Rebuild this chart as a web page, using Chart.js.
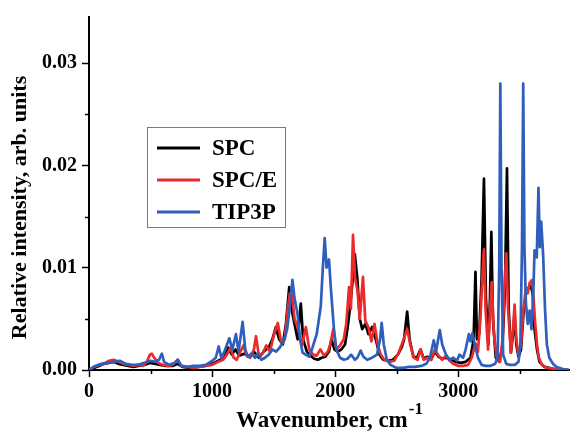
<!DOCTYPE html>
<html>
<head>
<meta charset="utf-8">
<script src="https://cdn.jsdelivr.net/npm/chart.js@4.4.1/dist/chart.umd.min.js"></script>
<style>
  html, body { margin: 0; padding: 0; background: #fff; }
  #wrap { width: 570px; height: 432px; position: relative; }
</style>
</head>
<body>
<div id="wrap"><canvas id="chart"></canvas></div>
<script>
// series labels and colours
const seriesNames = ['SPC', 'SPC/E', 'TIP3P'];
const seriesColors = ['#000000', '#ec2a2a', '#2f5fbd'];

// SPC (black) - wavenumber, cm-1 / relative intensity
const spcWn = [0, 40, 80, 120, 160, 200, 240, 280, 320, 360, 400, 450, 500, 540, 580, 620, 680, 720, 760, 820, 880, 940,
  1000, 1050, 1100, 1130, 1160, 1190, 1220, 1260, 1300, 1340, 1380, 1420, 1460, 1490, 1518, 1545, 1575, 1600, 1627, 1645,
  1670, 1695, 1721, 1740, 1770, 1800, 1830, 1860, 1890, 1920, 1950, 1970, 1995, 2020, 2050, 2080, 2100, 2120, 2140, 2160,
  2181, 2200, 2220, 2245, 2270, 2300, 2330, 2360, 2390, 2430, 2470, 2510, 2540, 2560, 2585, 2605, 2635, 2665, 2693, 2720,
  2750, 2780, 2810, 2840, 2870, 2900, 2940, 2980, 3020, 3060, 3100, 3125, 3140, 3152, 3170, 3190, 3209, 3225, 3245, 3258,
  3269, 3282, 3305, 3335, 3360, 3380, 3396, 3410, 3428, 3445, 3458, 3472, 3490, 3510, 3530, 3550, 3570, 3590, 3605, 3620,
  3640, 3660, 3700, 3780, 3900];
const spcInt = [0, 0.0002, 0.0004, 0.0006, 0.0007, 0.0008, 0.0006, 0.0005, 0.0004, 0.0003, 0.0004, 0.0005, 0.0007, 0.0006, 0.0005, 0.0004, 0.0004, 0.0006, 0.0003, 0.0002, 0.0003, 0.0004,
  0.0006, 0.0009, 0.0012, 0.0022, 0.0015, 0.0020, 0.0014, 0.0016, 0.0013, 0.0018, 0.0012, 0.0018, 0.0022, 0.0030, 0.0042, 0.0030, 0.0025, 0.0045, 0.0081, 0.0060,
  0.0045, 0.0030, 0.0065, 0.0030, 0.0018, 0.0014, 0.0011, 0.0010, 0.0012, 0.0013, 0.0018, 0.0030, 0.0020, 0.0018, 0.0020, 0.0025, 0.0040, 0.0060, 0.0085, 0.0113,
  0.0088, 0.0050, 0.0040, 0.0045, 0.0035, 0.0042, 0.0030, 0.0015, 0.0010, 0.0009, 0.0010, 0.0015, 0.0022, 0.0030, 0.0057, 0.0030, 0.0013, 0.0012, 0.0020, 0.0011,
  0.0013, 0.0010, 0.0018, 0.0013, 0.0011, 0.0012, 0.0010, 0.0008, 0.0007, 0.0008, 0.0012, 0.0030, 0.0096, 0.0030, 0.0035, 0.0090, 0.0187, 0.0070, 0.0025, 0.0070,
  0.0135, 0.0050, 0.0012, 0.0008, 0.0025, 0.0080, 0.0197, 0.0060, 0.0017, 0.0035, 0.0055, 0.0025, 0.0013, 0.0020, 0.0055, 0.0075, 0.0080, 0.0082, 0.0075, 0.0040,
  0.0020, 0.0008, 0.0003, 0.0001, 0];

// SPC/E (red)
const spceWn = [0, 40, 80, 120, 160, 200, 240, 280, 320, 360, 400, 440, 470, 495, 510, 530, 560, 600, 640, 680, 720, 750, 800, 850, 900, 950,
  1000, 1050, 1090, 1120, 1150, 1175, 1200, 1230, 1255, 1280, 1310, 1340, 1357, 1380, 1410, 1440, 1470, 1500, 1534, 1560, 1590, 1615,
  1632, 1650, 1670, 1700, 1730, 1762, 1790, 1820, 1850, 1880, 1910, 1940, 1960, 1985, 2010, 2040, 2070, 2090, 2113, 2128, 2145, 2162,
  2181, 2200, 2226, 2245, 2270, 2295, 2320, 2345, 2370, 2400, 2440, 2480, 2520, 2550, 2585, 2610, 2640, 2670, 2693, 2720, 2750, 2780,
  2810, 2840, 2870, 2900, 2930, 2960, 3000, 3040, 3080, 3110, 3140, 3160, 3180, 3200, 3209, 3222, 3242, 3260, 3272, 3290, 3315, 3340,
  3360, 3375, 3390, 3405, 3428, 3445, 3458, 3472, 3490, 3510, 3530, 3550, 3565, 3580, 3600, 3612, 3625, 3640, 3655, 3680, 3720, 3800, 3900];
const spceInt = [0, 0.0003, 0.0005, 0.0006, 0.0009, 0.0010, 0.0008, 0.0006, 0.0005, 0.0004, 0.0005, 0.0004, 0.0008, 0.0015, 0.0016, 0.0012, 0.0007, 0.0005, 0.0004, 0.0005, 0.0010, 0.0004, 0.0003, 0.0002, 0.0003, 0.0004,
  0.0005, 0.0008, 0.0010, 0.0015, 0.0022, 0.0012, 0.0010, 0.0018, 0.0024, 0.0014, 0.0012, 0.0020, 0.0033, 0.0014, 0.0016, 0.0024, 0.0018, 0.0033, 0.0046, 0.0028, 0.0030, 0.0060,
  0.0075, 0.0073, 0.0050, 0.0040, 0.0024, 0.0042, 0.0020, 0.0015, 0.0014, 0.0020, 0.0014, 0.0018, 0.0025, 0.0040, 0.0020, 0.0024, 0.0030, 0.0045, 0.0081, 0.0060, 0.0132, 0.0090,
  0.0078, 0.0050, 0.0091, 0.0048, 0.0042, 0.0028, 0.0045, 0.0025, 0.0015, 0.0010, 0.0008, 0.0009, 0.0018, 0.0028, 0.0040, 0.0025, 0.0012, 0.0010, 0.0020, 0.0010, 0.0012, 0.0010,
  0.0020, 0.0014, 0.0010, 0.0014, 0.0009, 0.0006, 0.0004, 0.0004, 0.0005, 0.0012, 0.0026, 0.0018, 0.0050, 0.0100, 0.0118, 0.0060, 0.0020, 0.0060, 0.0086, 0.0035, 0.0010, 0.0008,
  0.0030, 0.0080, 0.0114, 0.0060, 0.0017, 0.0040, 0.0064, 0.0030, 0.0015, 0.0025, 0.0060, 0.0080, 0.0075, 0.0085, 0.0088, 0.0070, 0.0046, 0.0025, 0.0012, 0.0005, 0.0002, 0.0001, 0];

// TIP3P (blue)
const tipWn = [0, 50, 100, 150, 200, 250, 300, 350, 400, 450, 500, 540, 570, 592, 610, 650, 700, 722, 750, 800, 850, 900, 950,
  1000, 1030, 1054, 1075, 1100, 1140, 1165, 1194, 1215, 1248, 1270, 1290, 1320, 1350, 1370, 1400, 1430, 1460, 1490, 1520, 1550,
  1586, 1610, 1630, 1653, 1670, 1694, 1715, 1735, 1760, 1790, 1816, 1850, 1883, 1900, 1915, 1930, 1950, 1965, 1991, 2010, 2040,
  2070, 2100, 2130, 2160, 2180, 2207, 2230, 2260, 2300, 2340, 2365, 2378, 2395, 2420, 2450, 2500, 2550, 2600, 2650, 2700, 2740,
  2770, 2801, 2820, 2850, 2870, 2900, 2930, 2960, 2990, 3010, 3040, 3060, 3086, 3100, 3115, 3135, 3160, 3190, 3220, 3260, 3300,
  3320, 3333, 3342, 3352, 3365, 3390, 3420, 3460, 3490, 3505, 3518, 3528, 3538, 3550, 3565, 3580, 3595, 3610, 3620, 3638, 3652,
  3663, 3674, 3690, 3705, 3720, 3740, 3770, 3800, 3850, 3900];
const tipInt = [0, 0.0004, 0.0006, 0.0007, 0.0008, 0.0009, 0.0006, 0.0005, 0.0005, 0.0007, 0.0009, 0.0008, 0.0010, 0.0016, 0.0008, 0.0005, 0.0007, 0.0010, 0.0004, 0.0003, 0.0004, 0.0004, 0.0005,
  0.0009, 0.0012, 0.0023, 0.0012, 0.0018, 0.0031, 0.0020, 0.0035, 0.0018, 0.0047, 0.0020, 0.0013, 0.0016, 0.0012, 0.0016, 0.0010, 0.0012, 0.0015, 0.0020, 0.0018, 0.0022,
  0.0029, 0.0040, 0.0060, 0.0088, 0.0070, 0.0055, 0.0030, 0.0017, 0.0015, 0.0013, 0.0022, 0.0035, 0.0062, 0.0100, 0.0129, 0.0100, 0.0108, 0.0080, 0.0039, 0.0020, 0.0012,
  0.0010, 0.0011, 0.0015, 0.0010, 0.0012, 0.0019, 0.0013, 0.0010, 0.0012, 0.0015, 0.0030, 0.0046, 0.0025, 0.0010, 0.0005, 0.0002, 0.0002, 0.0003, 0.0003, 0.0004, 0.0006,
  0.0012, 0.0029, 0.0018, 0.0039, 0.0025, 0.0015, 0.0010, 0.0012, 0.0009, 0.0015, 0.0012, 0.0020, 0.0035, 0.0028, 0.0036, 0.0025, 0.0012, 0.0005, 0.0004, 0.0004, 0.0006,
  0.0012, 0.0100, 0.0280, 0.0100, 0.0015, 0.0006, 0.0005, 0.0005, 0.0008, 0.0025, 0.0120, 0.0280, 0.0120, 0.0065, 0.0045, 0.0058, 0.0040, 0.0075, 0.0117, 0.0110, 0.0178,
  0.0120, 0.0145, 0.0112, 0.0060, 0.0025, 0.0012, 0.0006, 0.0003, 0.0001, 0];

// axis ticks
const xTicks = [0, 500, 1000, 1500, 2000, 2500, 3000, 3500];
const xLabels = ['0', '', '1000', '', '2000', '', '3000', ''];
const yTicks = [0, 0.005, 0.01, 0.015, 0.02, 0.025, 0.03];
const yLabels = ['0.00', '', '0.01', '', '0.02', '', '0.03'];

const FONT = '"Liberation Serif", "Times New Roman", serif';

const toPoints = (wn, val) => wn.map((w, i) => ({ x: w, y: val[i] }));
const isMajor = c => c.tick && Math.round(c.tick.value * 1e6) % Math.round((c.scale.axis === 'x' ? 1000 : 0.01) * 1e6) === 0;

// minor ticks, axis titles and the boxed legend drawn on the canvas
const decorPlugin = {
  id: 'decor',
  afterDraw(chart) {
    const ctx = chart.ctx;
    const area = chart.chartArea;
    const xs = chart.scales.x, ys = chart.scales.y;
    ctx.save();

    // short minor ticks
    ctx.strokeStyle = '#000';
    ctx.lineWidth = 1.5;
    ctx.beginPath();
    xTicks.forEach((v, i) => {
      if (xLabels[i]) return;
      const px = Math.round(xs.getPixelForValue(v)) + 0.5;
      ctx.moveTo(px, area.bottom);
      ctx.lineTo(px, area.bottom + 4);
    });
    yTicks.forEach((v, i) => {
      if (yLabels[i]) return;
      const py = Math.round(ys.getPixelForValue(v)) + 0.5;
      ctx.moveTo(area.left, py);
      ctx.lineTo(area.left - 4, py);
    });
    ctx.stroke();

    // x title with superscript
    ctx.fillStyle = '#000';
    ctx.textBaseline = 'alphabetic';
    const main = 'Wavenumber, cm';
    ctx.font = 'bold 17px ' + FONT;
    const supW = ctx.measureText('-1').width;
    ctx.font = 'bold 23px ' + FONT;
    const mainW = ctx.measureText(main).width;
    const cx = (area.left + area.right) / 2;
    const startX = cx - (mainW + supW) / 2;
    ctx.textAlign = 'left';
    ctx.fillText(main, startX, 427);
    ctx.font = 'bold 17px ' + FONT;
    ctx.fillText('-1', startX + mainW + 1, 414);

    // y title
    ctx.save();
    ctx.translate(26, (area.top + area.bottom) / 2 + 14);
    ctx.rotate(-Math.PI / 2);
    ctx.textAlign = 'center';
    ctx.font = 'bold 22px ' + FONT;
    ctx.fillText('Relative intensity, arb. units', 0, 0);
    ctx.restore();

    // legend box
    const bx = 147, by = 127, bw = 138, bh = 100;
    ctx.fillStyle = '#fff';
    ctx.fillRect(bx, by, bw, bh);
    ctx.strokeStyle = '#7a7a7a';
    ctx.lineWidth = 1;
    ctx.strokeRect(bx + 0.5, by + 0.5, bw, bh);
    ctx.font = 'bold 23px ' + FONT;
    ctx.textAlign = 'left';
    ctx.textBaseline = 'middle';
    chart.data.datasets.forEach((ds, i) => {
      const yy = by + 21 + i * 32;
      ctx.strokeStyle = ds.borderColor;
      ctx.lineWidth = 3;
      ctx.beginPath();
      ctx.moveTo(bx + 10, yy);
      ctx.lineTo(bx + 53, yy);
      ctx.stroke();
      ctx.fillStyle = '#000';
      ctx.fillText(ds.label, bx + 65, yy + 1);
    });
    ctx.restore();
  }
};

const ctx = document.getElementById('chart').getContext('2d');
new Chart(ctx, {
  type: 'line',
  data: {
    datasets: [
      { label: seriesNames[0], data: toPoints(spcWn, spcInt), borderColor: seriesColors[0], order: 3 },
      { label: seriesNames[1], data: toPoints(spceWn, spceInt), borderColor: seriesColors[1], order: 2 },
      { label: seriesNames[2], data: toPoints(tipWn, tipInt), borderColor: seriesColors[2], order: 1 }
    ]
  },
  options: {
    responsive: true,
    maintainAspectRatio: false,
    animation: false,
    parsing: false,
    elements: {
      line: { borderWidth: 2.7, tension: 0, borderJoinStyle: 'round' },
      point: { radius: 0 }
    },
    layout: { padding: { top: 17, right: 1, left: 0, bottom: 0 } },
    scales: {
      x: {
        type: 'linear',
        min: 0,
        max: 3900,
        afterFit: s => { s.height = 62; },
        afterBuildTicks: s => { s.ticks = xTicks.map(v => ({ value: v })); },
        grid: {
          drawOnChartArea: false, drawTicks: true, tickLength: 7, tickWidth: 1.5,
          tickColor: c => isMajor(c) ? '#000' : 'rgba(0,0,0,0)'
        },
        border: { color: '#000', width: 2 },
        ticks: {
          color: '#000',
          padding: 3,
          maxRotation: 0,
          autoSkip: false,
          font: { family: FONT, size: 20, weight: 'bold' },
          callback: v => xLabels[xTicks.indexOf(v)] ?? ''
        }
      },
      y: {
        type: 'linear',
        min: 0,
        max: 0.0345,
        afterFit: s => { s.width = 89; },
        afterBuildTicks: s => { s.ticks = yTicks.map(v => ({ value: v })); },
        grid: {
          drawOnChartArea: false, drawTicks: true, tickLength: 7, tickWidth: 1.5,
          tickColor: c => isMajor(c) ? '#000' : 'rgba(0,0,0,0)'
        },
        border: { color: '#000', width: 2 },
        ticks: {
          color: '#000',
          padding: 5,
          autoSkip: false,
          font: { family: FONT, size: 20, weight: 'bold' },
          callback: (v, i) => yLabels[i]
        }
      }
    },
    plugins: {
      legend: { display: false },
      tooltip: { enabled: false }
    }
  },
  plugins: [decorPlugin]
});
</script>
</body>
</html>
